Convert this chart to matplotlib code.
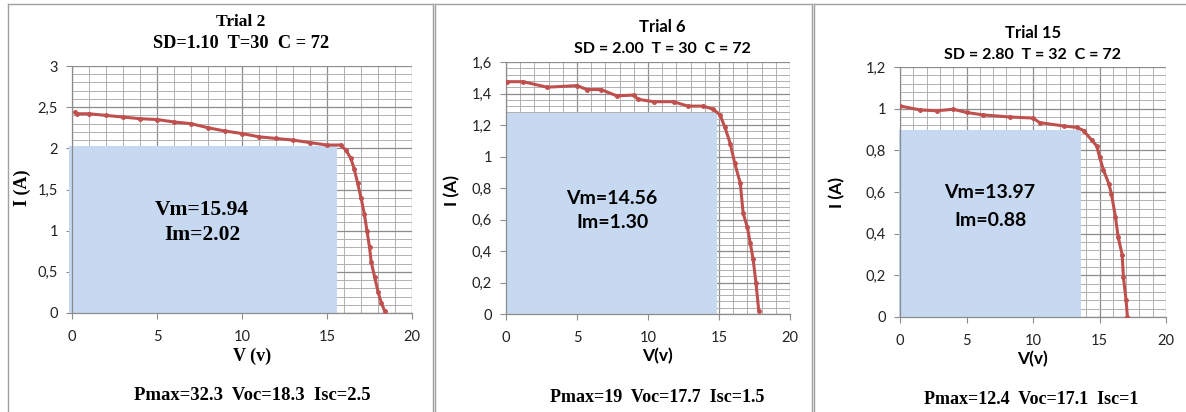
import matplotlib
matplotlib.use("Agg")
import matplotlib.pyplot as plt
from matplotlib.lines import Line2D
from matplotlib.patches import Rectangle

# Trial 2
v_t2 = [0.2, 0.3, 1.0, 2.0, 3.0, 4.0, 5.0, 6.0, 7.0, 8.0, 9.0, 10.0, 11.0, 12.0, 13.0, 14.0,
        15.0, 15.8, 16.1, 16.4, 16.6, 16.8, 17.0, 17.2, 17.35, 17.5, 17.6, 17.8, 18.0, 18.2, 18.4]
i_t2 = [2.44, 2.42, 2.42, 2.40, 2.38, 2.36, 2.35, 2.32, 2.30, 2.25, 2.21, 2.18, 2.14, 2.12, 2.10, 2.07,
        2.04, 2.04, 1.98, 1.88, 1.75, 1.58, 1.40, 1.20, 1.00, 0.80, 0.62, 0.44, 0.26, 0.12, 0.02]

# Trial 6
v_t6 = [0.05, 1.2, 2.9, 5.0, 5.7, 6.7, 7.8, 9.0, 9.3, 10.4, 11.8, 12.8, 13.9, 14.6, 15.07,
        15.4, 15.8, 16.1, 16.5, 16.7, 17.0, 17.2, 17.4, 17.6, 17.8]
i_t6 = [1.475, 1.475, 1.44, 1.45, 1.425, 1.425, 1.385, 1.39, 1.363, 1.348, 1.348, 1.32, 1.32, 1.30, 1.264,
        1.19, 1.08, 0.96, 0.83, 0.64, 0.55, 0.45, 0.35, 0.20, 0.02]

# Trial 15
v_t15 = [0.0, 1.5, 2.75, 4.0, 5.0, 6.25, 8.27, 10.0, 10.5, 12.3, 13.3, 13.8, 14.4, 14.8, 15.0,
         15.3, 15.7, 15.9, 16.2, 16.4, 16.7, 16.8, 17.0, 17.1]
i_t15 = [1.013, 0.994, 0.99, 0.997, 0.982, 0.97, 0.96, 0.955, 0.933, 0.917, 0.91, 0.895, 0.85, 0.82, 0.77,
         0.705, 0.64, 0.59, 0.48, 0.385, 0.30, 0.19, 0.08, 0.0]

titles = ["Trial 2", "Trial 6", "Trial 15"]
subtitles = ["SD=1.10  T=30  C = 72", "SD = 2.00  T = 30  C = 72", "SD = 2.80  T = 32  C = 72"]
vm_labels = ["Vm=15.94", "Vm=14.56", "Vm=13.97"]
im_labels = ["Im=2.02", "Im=1.30", "Im=0.88"]
footers = ["Pmax=32.3  Voc=18.3  Isc=2.5", "Pmax=19  Voc=17.7  Isc=1.5", "Pmax=12.4  Voc=17.1  Isc=1"]
xlabels = ["V (v)", "V(v)", "V(v)"]

# rectangle extents (Vm, Im) as drawn in the picture
rect_v = [15.6, 14.86, 13.6]
rect_i = [2.03, 1.274, 0.898]

x_ticks = [0, 5, 10, 15, 20]
y_ticks_t2 = [0, 0.5, 1, 1.5, 2, 2.5, 3]
y_labels_t2 = ["0", "0,5", "1", "1,5", "2", "2,5", "3"]
y_ticks_t6 = [0, 0.2, 0.4, 0.6, 0.8, 1.0, 1.2, 1.4, 1.6]
y_labels_t6 = ["0", "0,2", "0,4", "0,6", "0,8", "1", "1,2", "1,4", "1,6"]
y_ticks_t15 = [0, 0.2, 0.4, 0.6, 0.8, 1.0, 1.2]
y_labels_t15 = ["0", "0,2", "0,4", "0,6", "0,8", "1", "1,2"]

W, H = 1186, 412
fig = plt.figure(figsize=(W / 100, H / 100), dpi=100)
fig.patch.set_facecolor("white")

serif = "Liberation Serif"
sans = "Lato"

# axes boxes in pixels: left, top, right, bottom
boxes = [(72, 66, 412, 313), (506, 62, 790, 314), (900, 67, 1166, 317)]
panels = [
    (v_t2, i_t2, y_ticks_t2, y_labels_t2, 0.1, -0.2),
    (v_t6, i_t6, y_ticks_t6, y_labels_t6, 0.04, 0.0),
    (v_t15, i_t15, y_ticks_t15, y_labels_t15, 0.04, -0.1),
]
title_font = [serif, sans, sans]
title_size = [12.5, 12, 12]
sub_size = [13.2, 11.5, 11.5]
inner_size = [15.5, 14, 14]
lab_size = [13, 12.5, 12.5]
foot_size = [13.4, 13, 13]
title_pos = [(241, 22, 43), (662, 27, 49), (1033, 33, 55)]
inner_pos = [(202, 210, 235), (612, 198, 223), (990, 193, 220)]
ylab_pos = [(22, 188), (452, 190), (837, 193)]
xlab_pos = [(252, 356), (657, 356), (1032, 359)]
foot_pos = [(252, 396), (657, 398), (1031, 400)]

red = "#c0504d"
blue = "#c6d9f0"

for k, (v, i, yt, yl, ystep, rx0) in enumerate(panels):
    l, t, r, b = boxes[k]
    ax = fig.add_axes([l / W, 1 - b / H, (r - l) / W, (b - t) / H])
    ax.set_xlim(0, 20)
    ax.set_ylim(yt[0], yt[-1])
    ax.set_xticks(x_ticks)
    ax.set_yticks(yt)
    ax.set_yticklabels(yl)
    ax.set_xticks([x for x in range(0, 21)], minor=True)
    n = int(round(yt[-1] / ystep))
    ax.set_yticks([j * ystep for j in range(n + 1)], minor=True)
    ax.grid(which="major", color="#8c8c8c", linewidth=0.9)
    ax.grid(which="minor", color="#b0b0b0", linewidth=0.7)
    ax.set_axisbelow(True)
    for s in ["top", "right"]:
        ax.spines[s].set_visible(False)
    for s in ["left", "bottom"]:
        ax.spines[s].set_color("#8c8c8c")
        ax.spines[s].set_linewidth(0.9)
    ax.tick_params(which="major", direction="out", length=4, color="#8c8c8c",
                   labelsize=10.5, labelcolor="#222222")
    ax.tick_params(axis="x", which="major", pad=8)
    ax.tick_params(axis="y", which="major", pad=6)
    ax.tick_params(which="minor", length=0)
    for lab in ax.get_xticklabels() + ax.get_yticklabels():
        lab.set_family(sans)

    ax.add_patch(Rectangle((rx0, 0), rect_v[k] - rx0, rect_i[k], facecolor=blue,
                           edgecolor="none", zorder=2, clip_on=False))
    ax.plot(v, i, color=red, linewidth=2.2, marker="o", markersize=2.5, zorder=3,
            solid_joinstyle="round")

    f = title_font[k]
    tx, ty1, ty2 = title_pos[k]
    fig.text(tx / W, 1 - ty1 / H, titles[k], ha="center", va="center",
             fontsize=title_size[k], fontweight="bold", family=f)
    fig.text(tx / W, 1 - ty2 / H, subtitles[k], ha="center", va="center",
             fontsize=sub_size[k], fontweight="bold", family=f)
    ix, iy1, iy2 = inner_pos[k]
    fig.text(ix / W, 1 - iy1 / H, vm_labels[k], ha="center", va="center",
             fontsize=inner_size[k], fontweight="bold", family=f)
    fig.text(ix / W, 1 - iy2 / H, im_labels[k], ha="center", va="center",
             fontsize=inner_size[k], fontweight="bold", family=f)
    yx, yy = ylab_pos[k]
    fig.text(yx / W, 1 - yy / H, "I (A)", ha="center", va="center", rotation=90,
             fontsize=lab_size[k], fontweight="bold", family=f)
    xx, xy = xlab_pos[k]
    fig.text(xx / W, 1 - xy / H, xlabels[k], ha="center", va="center",
             fontsize=lab_size[k], fontweight="bold", family=f)
    fx, fy = foot_pos[k]
    fig.text(fx / W, 1 - fy / H, footers[k], ha="center", va="center",
             fontsize=foot_size[k], fontweight="bold", family=serif)

# panel frames
frame = "#a0a0a0"
for x0, x1 in [(8, 433), (435, 812), (814, 1186)]:
    fig.add_artist(Line2D([x0 / W, x0 / W], [0, 1 - 4 / H], color=frame, linewidth=1))
    fig.add_artist(Line2D([x0 / W, x1 / W], [1 - 4 / H, 1 - 4 / H], color=frame, linewidth=1))
for x in [433, 812]:
    fig.add_artist(Line2D([x / W, x / W], [0, 1 - 4 / H], color=frame, linewidth=1))

fig.savefig("out.png", dpi=100)
